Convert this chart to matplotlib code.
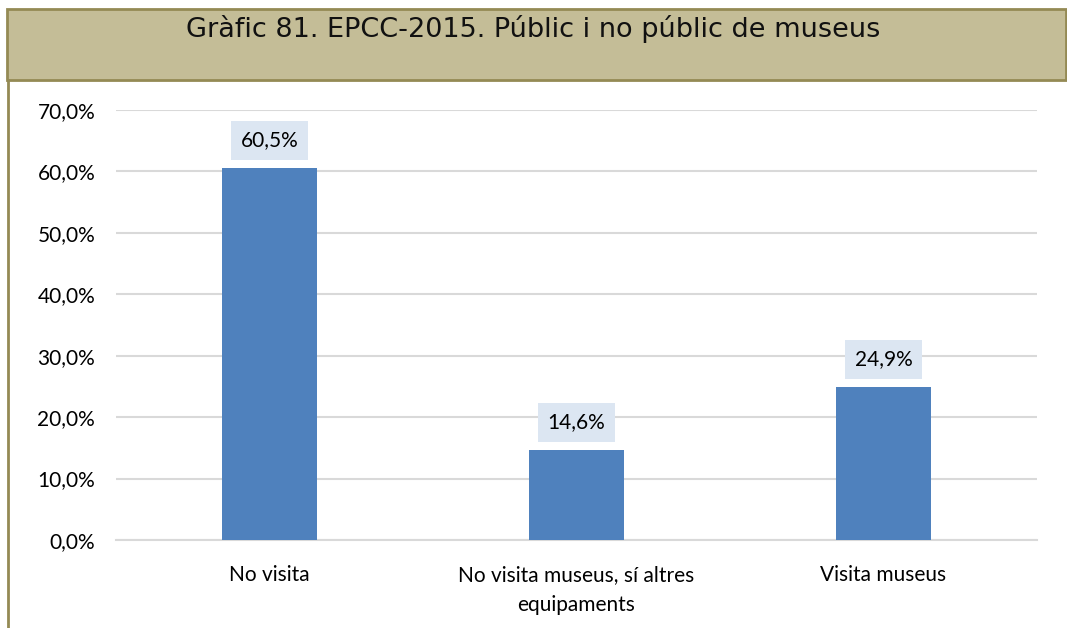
import matplotlib.pyplot as plt
from matplotlib.patches import Rectangle
from matplotlib.lines import Line2D

categories = ["No visita", "No visita museus, sí altres\nequipaments", "Visita museus"]
values = [60.5, 14.6, 24.9]
yticks = [0, 10, 20, 30, 40, 50, 60, 70]
title = "Gràfic 81. EPCC-2015. Públic i no públic de museus"

fig = plt.figure(figsize=(10.67, 6.28), dpi=100)
W, H = 1067, 628
FONT = "Lato"
FS = 15

# header band
fig.patches.append(Rectangle((7 / W, 1 - 80 / H), 1059 / W, 71 / H, transform=fig.transFigure,
                             facecolor="#C4BD97", edgecolor="#948A54", linewidth=2))
# left frame line below the header
fig.lines.append(Line2D([8 / W, 8 / W], [0, 1 - 80 / H], transform=fig.transFigure,
                        color="#948A54", linewidth=2))
fig.text(0.5, 1 - 29 / H, title, ha="center", va="center", fontsize=19.5,
         family="DejaVu Sans", color="#111111")

ax = fig.add_axes([116 / W, 1 - 540 / H, 921 / W, 430 / H])
x = range(len(categories))
bars = ax.bar(x, values, width=0.31, color="#4F81BD", zorder=3)
ax.set_xlim(-0.5, 2.5)
ax.set_ylim(0, 70)
ax.set_yticks(yticks)
ax.set_yticklabels([f"{v:.1f}%".replace(".", ",") for v in yticks], fontsize=FS, family=FONT)
ax.set_xticks(list(x))
ax.set_xticklabels(categories, fontsize=FS, family=FONT, linespacing=1.6)
ax.tick_params(axis="y", length=0, pad=15)
ax.tick_params(axis="x", length=0, pad=18)
ax.grid(axis="y", color="#D9D9D9", linewidth=1.5, zorder=0)
for s in ["top", "right", "left"]:
    ax.spines[s].set_visible(False)
ax.spines["bottom"].set_color("#D9D9D9")
ax.spines["bottom"].set_linewidth(1.5)

for b, v in zip(bars, values):
    ax.annotate(f"{v:.1f}%".replace(".", ","), (b.get_x() + b.get_width() / 2, v),
                xytext=(0, 20), textcoords="offset points", ha="center", va="center",
                fontsize=FS, family=FONT,
                bbox=dict(boxstyle="square,pad=0.45", facecolor="#DCE6F2", edgecolor="none"))

fig.savefig("out.png", dpi=100)
